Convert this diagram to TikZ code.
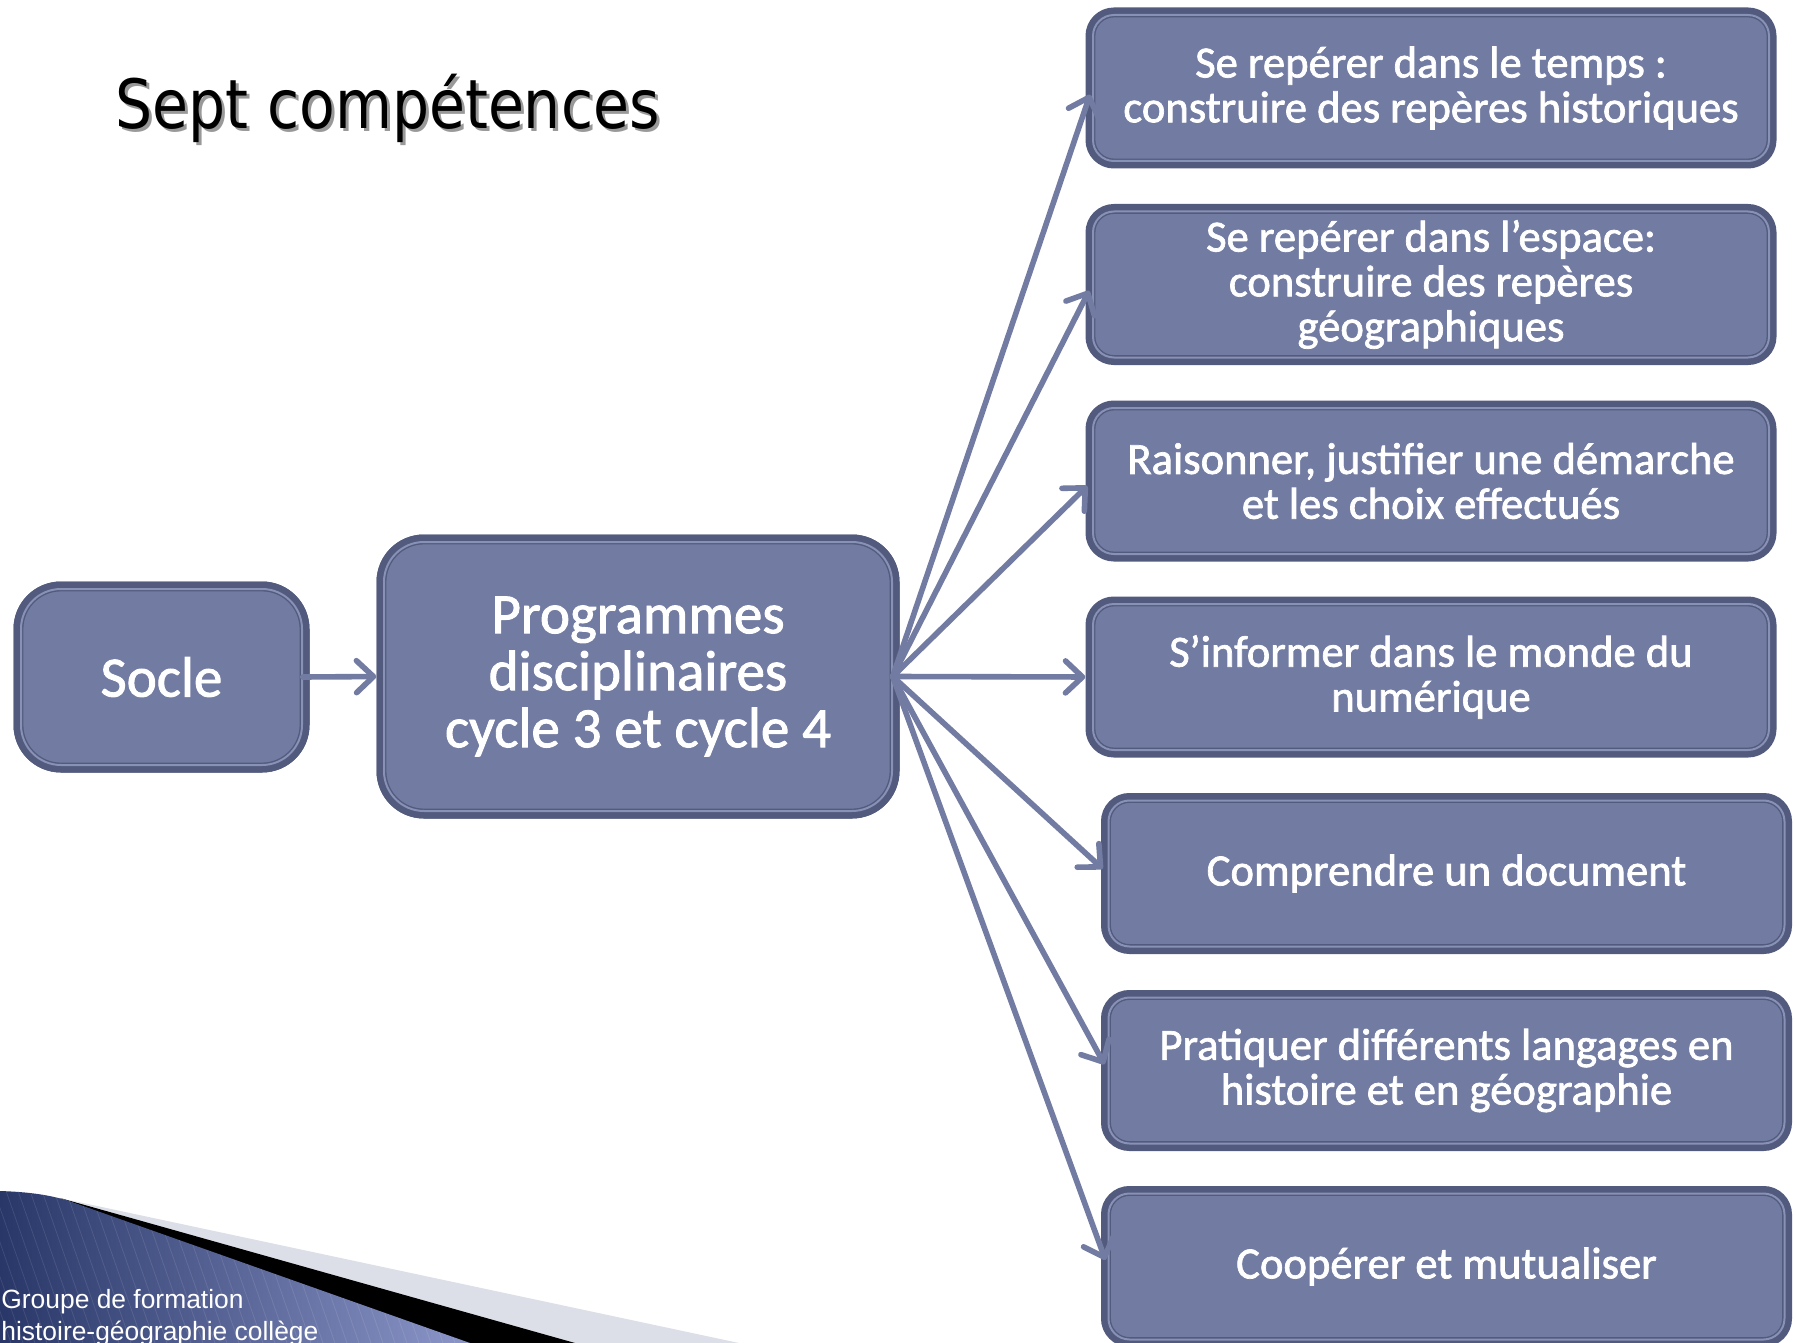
\documentclass[tikz,border=0pt]{standalone}
\usepackage{fontspec}
\setmainfont{Carlito}
\newfontfamily\titlefont{DejaVu Sans}
\newfontfamily\footfont{Liberation Sans}
\usetikzlibrary{arrows.meta,positioning}
\definecolor{boxfill}{RGB}{114,123,161}
\definecolor{boxedge}{RGB}{82,91,125}
\definecolor{boxline}{RGB}{136,145,182}
\definecolor{bandgray}{RGB}{220,223,231}
\definecolor{wedgedark}{RGB}{40,54,104}
\definecolor{wedgelight}{RGB}{142,152,202}
\tikzset{
	compbox/.style={
			rectangle, rounded corners=10.5pt, fill=boxfill,
			draw=boxedge, double=boxline, line width=0.7pt, double distance=1pt,
			preaction={draw=boxedge, line width=7.5pt, rounded corners=10.5pt},
			text=white, align=center, inner sep=0pt,
			minimum width=338pt, minimum height=73pt,
			font=\fontsize{22.3pt}{22.4pt}\selectfont\addfontfeature{FakeBold=1.6}
		},
	bigbox/.style={
			compbox, rounded corners=20pt,
			preaction={draw=boxedge, line width=7.5pt, rounded corners=20pt},
			font=\fontsize{28.5pt}{28.5pt}\selectfont\addfontfeature{FakeBold=1.6}
		},
	linkarrow/.style={
			draw=boxfill, line width=2.8pt, line cap=round,
			-{Straight Barb[length=8.5pt,width=16pt,line cap=round,line join=round]},
			shorten >=3.5pt
		}
}

\begin{document}
\begin{tikzpicture}[x=0.5pt,y=-0.5pt]
	\useasboundingbox (0,0) rectangle (1796,1343);
	% bandeau en bas a gauche
	\fill[bandgray] (69,1200) -- (739,1343) -- (560,1343) -- cycle;
	\fill[black] (60,1198) -- (575,1343) -- (460,1343) -- cycle;
	\begin{scope}
		\clip (0,1191) .. controls (30,1192) and (50,1195) .. (69,1201) -- (470,1343) -- (0,1343) -- cycle;
		\shade[left color=wedgedark, right color=wedgelight] (0,1185) rectangle (480,1343);
		\foreach \x in {-80,-68,...,480}
			\draw[white, opacity=.1, line width=.4pt] (\x,1185) -- (\x+55,1343);
	\end{scope}
	\node[anchor=base west, text=white, inner sep=0pt, font=\footfont\fontsize{13.2pt}{16pt}\selectfont] (groupe) at (1,1308) {Groupe de formation};
	\node[anchor=base west, text=white, inner sep=0pt, font=\footfont\fontsize{13.2pt}{16pt}\selectfont] (college) at (1,1340) {histoire-géographie collège};

	% titre
	\node[anchor=base west, inner sep=0pt, text=black!40, font=\titlefont\fontsize{34pt}{40pt}\selectfont] (ombre) at (118,132) {\scalebox{0.86}[1]{Sept compétences}};
	\node[anchor=base west, inner sep=0pt, font=\titlefont\fontsize{34pt}{40pt}\selectfont] (titre) at (115,129) {\scalebox{0.86}[1]{Sept compétences}};

	% boites
	\node[bigbox, minimum width=140.5pt, minimum height=88pt] (socle) at (161.5,677) {Socle};
	\node[bigbox, minimum width=254pt, minimum height=134.5pt] (prog) at (638,676.5) {Programmes\\disciplinaires\\cycle 3 et cycle 4};

	\node[compbox] (temps) at (1431,88) {Se repérer dans le temps :\\construire des repères historiques};
	\node[compbox] (espace) at (1431,284.5) {Se repérer dans l’espace:\\construire des repères\\géographiques};
	\node[compbox] (raisonner) at (1431,481) {Raisonner, justifier une démarche\\et les choix effectués};
	\node[compbox] (informer) at (1431,677) {S’informer dans le monde du\\numérique};
	\node[compbox] (document) at (1446.5,873.5) {Comprendre un document};
	\node[compbox] (langages) at (1446.5,1070.5) {Pratiquer différents langages en\\histoire et en géographie};
	\node[compbox] (cooperer) at (1446.5,1266.5) {Coopérer et mutualiser};

	% fleches
	\draw[linkarrow] (socle.east) -- (prog.west);
	\draw[linkarrow] (prog.east) -- (temps.west);
	\draw[linkarrow] (prog.east) -- (espace.west);
	\draw[linkarrow] (prog.east) -- (raisonner.west);
	\draw[linkarrow] (prog.east) -- (informer.west);
	\draw[linkarrow] (prog.east) -- (document.west);
	\draw[linkarrow] (prog.east) -- (langages.west);
	\draw[linkarrow] (prog.east) -- (cooperer.west);
\end{tikzpicture}
\end{document}
